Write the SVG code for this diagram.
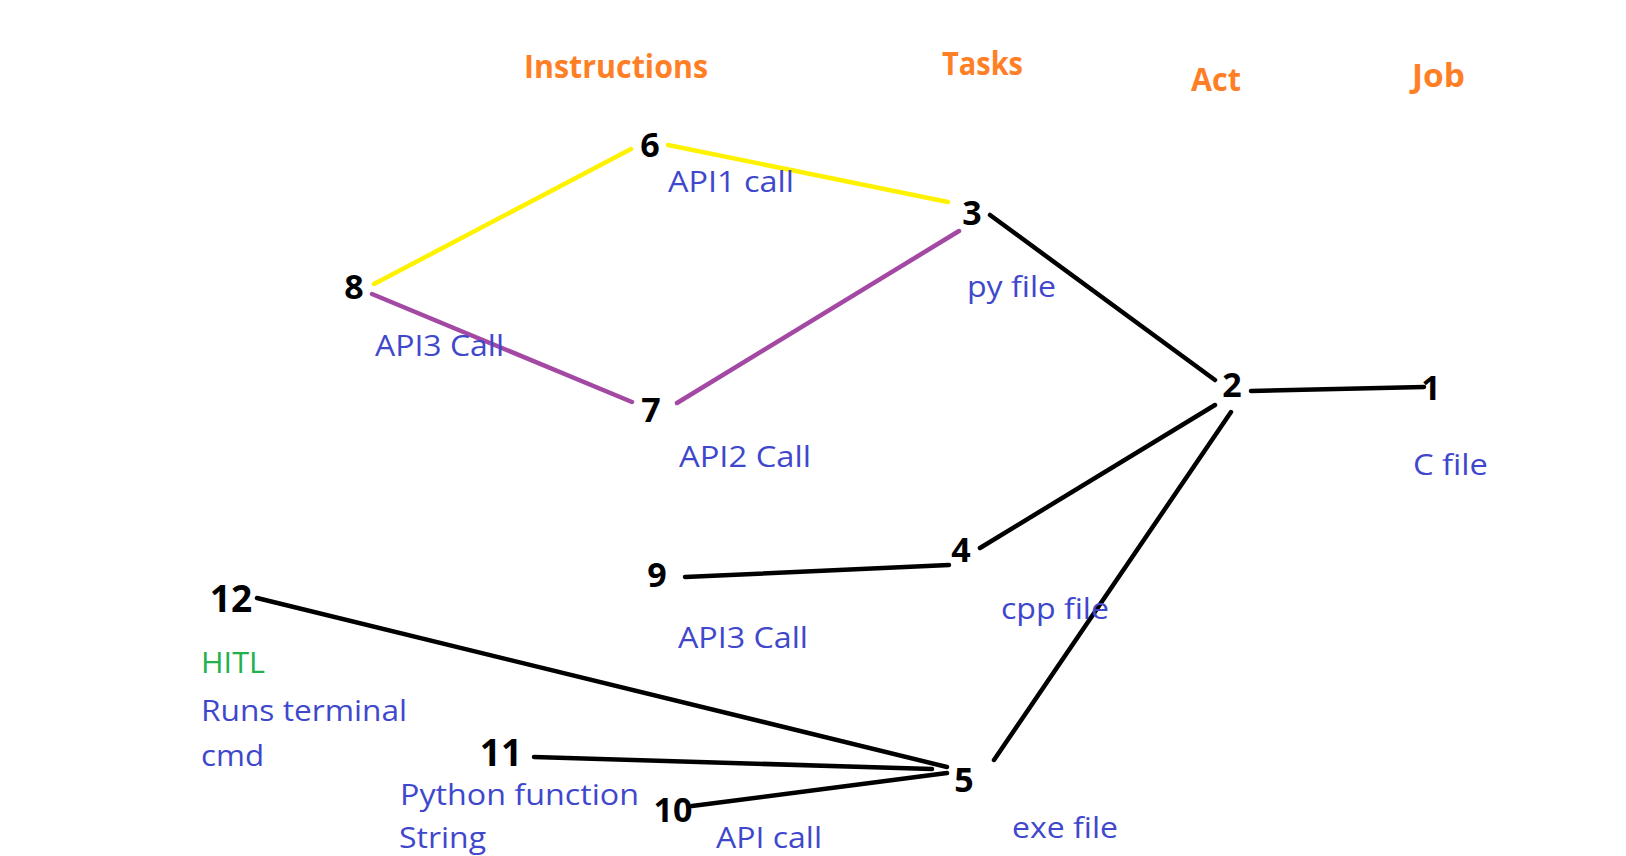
<svg xmlns="http://www.w3.org/2000/svg" width="1626" height="856" viewBox="0 0 1626 856">
<style>
.hdr{font-family:"Open Sans","Liberation Sans",sans-serif;font-weight:bold;font-size:32px;fill:#FF7F27}
.num{font-family:"Open Sans","Liberation Sans",sans-serif;font-weight:bold;font-size:34px;fill:#000;text-anchor:middle}
.big{font-size:37px}
.lbl{font-family:"Open Sans","Liberation Sans",sans-serif;font-size:30px;fill:#3F48CC}
.grn{fill:#22B14C}
.e{stroke-width:4.5;stroke-linecap:round;fill:none}
.k{stroke:#000}.y{stroke:#FFF200}.p{stroke:#A349A4}
</style>
<rect width="1626" height="856" fill="#fff"/>
<g id="headers">
<text class="hdr" x="524" y="78" textLength="184" lengthAdjust="spacingAndGlyphs">Instructions</text>
<text class="hdr" x="942" y="75" textLength="81" lengthAdjust="spacingAndGlyphs">Tasks</text>
<text class="hdr" x="1191" y="91" textLength="50" lengthAdjust="spacingAndGlyphs">Act</text>
<text class="hdr" x="1412" y="87" textLength="53" lengthAdjust="spacingAndGlyphs">Job</text>
</g>
<g id="connectors">
<line class="e y" x1="374" y1="284" x2="631" y2="149"/>
<line class="e y" x1="668" y1="145" x2="948" y2="202"/>
<line class="e p" x1="372" y1="294" x2="632" y2="402"/>
<line class="e p" x1="677" y1="403" x2="959" y2="231"/>
<line class="e k" x1="990" y1="215" x2="1215" y2="380"/>
<line class="e k" x1="1251" y1="391" x2="1424" y2="387"/>
<line class="e k" x1="1215" y1="405" x2="980" y2="548"/>
<line class="e k" x1="1231" y1="412" x2="994" y2="760"/>
<line class="e k" x1="685" y1="577" x2="949" y2="565"/>
<line class="e k" x1="257" y1="598" x2="947" y2="767"/>
<line class="e k" x1="534" y1="757" x2="932" y2="769"/>
<line class="e k" x1="692" y1="806" x2="947" y2="773"/>
</g>
<g id="n6"><text class="num" x="650" y="157">6</text><text class="lbl" x="668" y="192" textLength="126" lengthAdjust="spacingAndGlyphs">API1 call</text></g>
<g id="n3"><text class="num" x="972" y="225">3</text><text class="lbl" x="967" y="297" textLength="89" lengthAdjust="spacingAndGlyphs">py file</text></g>
<g id="n8"><text class="num" x="354" y="299">8</text><text class="lbl" x="375" y="356" textLength="129" lengthAdjust="spacingAndGlyphs">API3 Call</text></g>
<g id="n7"><text class="num" x="651" y="422">7</text><text class="lbl" x="679" y="467" textLength="132" lengthAdjust="spacingAndGlyphs">API2 Call</text></g>
<g id="n2"><text class="num" x="1232" y="397">2</text></g>
<g id="n1"><text class="num" x="1431" y="400">1</text><text class="lbl" x="1413" y="475" textLength="75" lengthAdjust="spacingAndGlyphs">C file</text></g>
<g id="n9"><text class="num" x="657" y="587">9</text><text class="lbl" x="678" y="648" textLength="130" lengthAdjust="spacingAndGlyphs">API3 Call</text></g>
<g id="n4"><text class="num" x="961" y="562">4</text><text class="lbl" x="1001" y="619" textLength="108" lengthAdjust="spacingAndGlyphs">cpp file</text></g>
<g id="n12"><text class="num big" x="231" y="612">12</text>
<text class="lbl grn" x="201" y="673" textLength="64" lengthAdjust="spacingAndGlyphs">HITL</text>
<text class="lbl" x="201" y="721" textLength="206" lengthAdjust="spacingAndGlyphs">Runs terminal</text>
<text class="lbl" x="201" y="766" textLength="63" lengthAdjust="spacingAndGlyphs">cmd</text></g>
<g id="n11"><text class="num big" x="501" y="766">11</text>
<text class="lbl" x="400" y="805" textLength="239" lengthAdjust="spacingAndGlyphs">Python function</text>
<text class="lbl" x="399" y="848" textLength="87" lengthAdjust="spacingAndGlyphs">String</text></g>
<g id="n10"><text class="num" x="673" y="822">10</text><text class="lbl" x="716" y="848" textLength="106" lengthAdjust="spacingAndGlyphs">API call</text></g>
<g id="n5"><text class="num" x="964" y="792">5</text><text class="lbl" x="1012" y="838" textLength="106" lengthAdjust="spacingAndGlyphs">exe file</text></g>
</svg>
